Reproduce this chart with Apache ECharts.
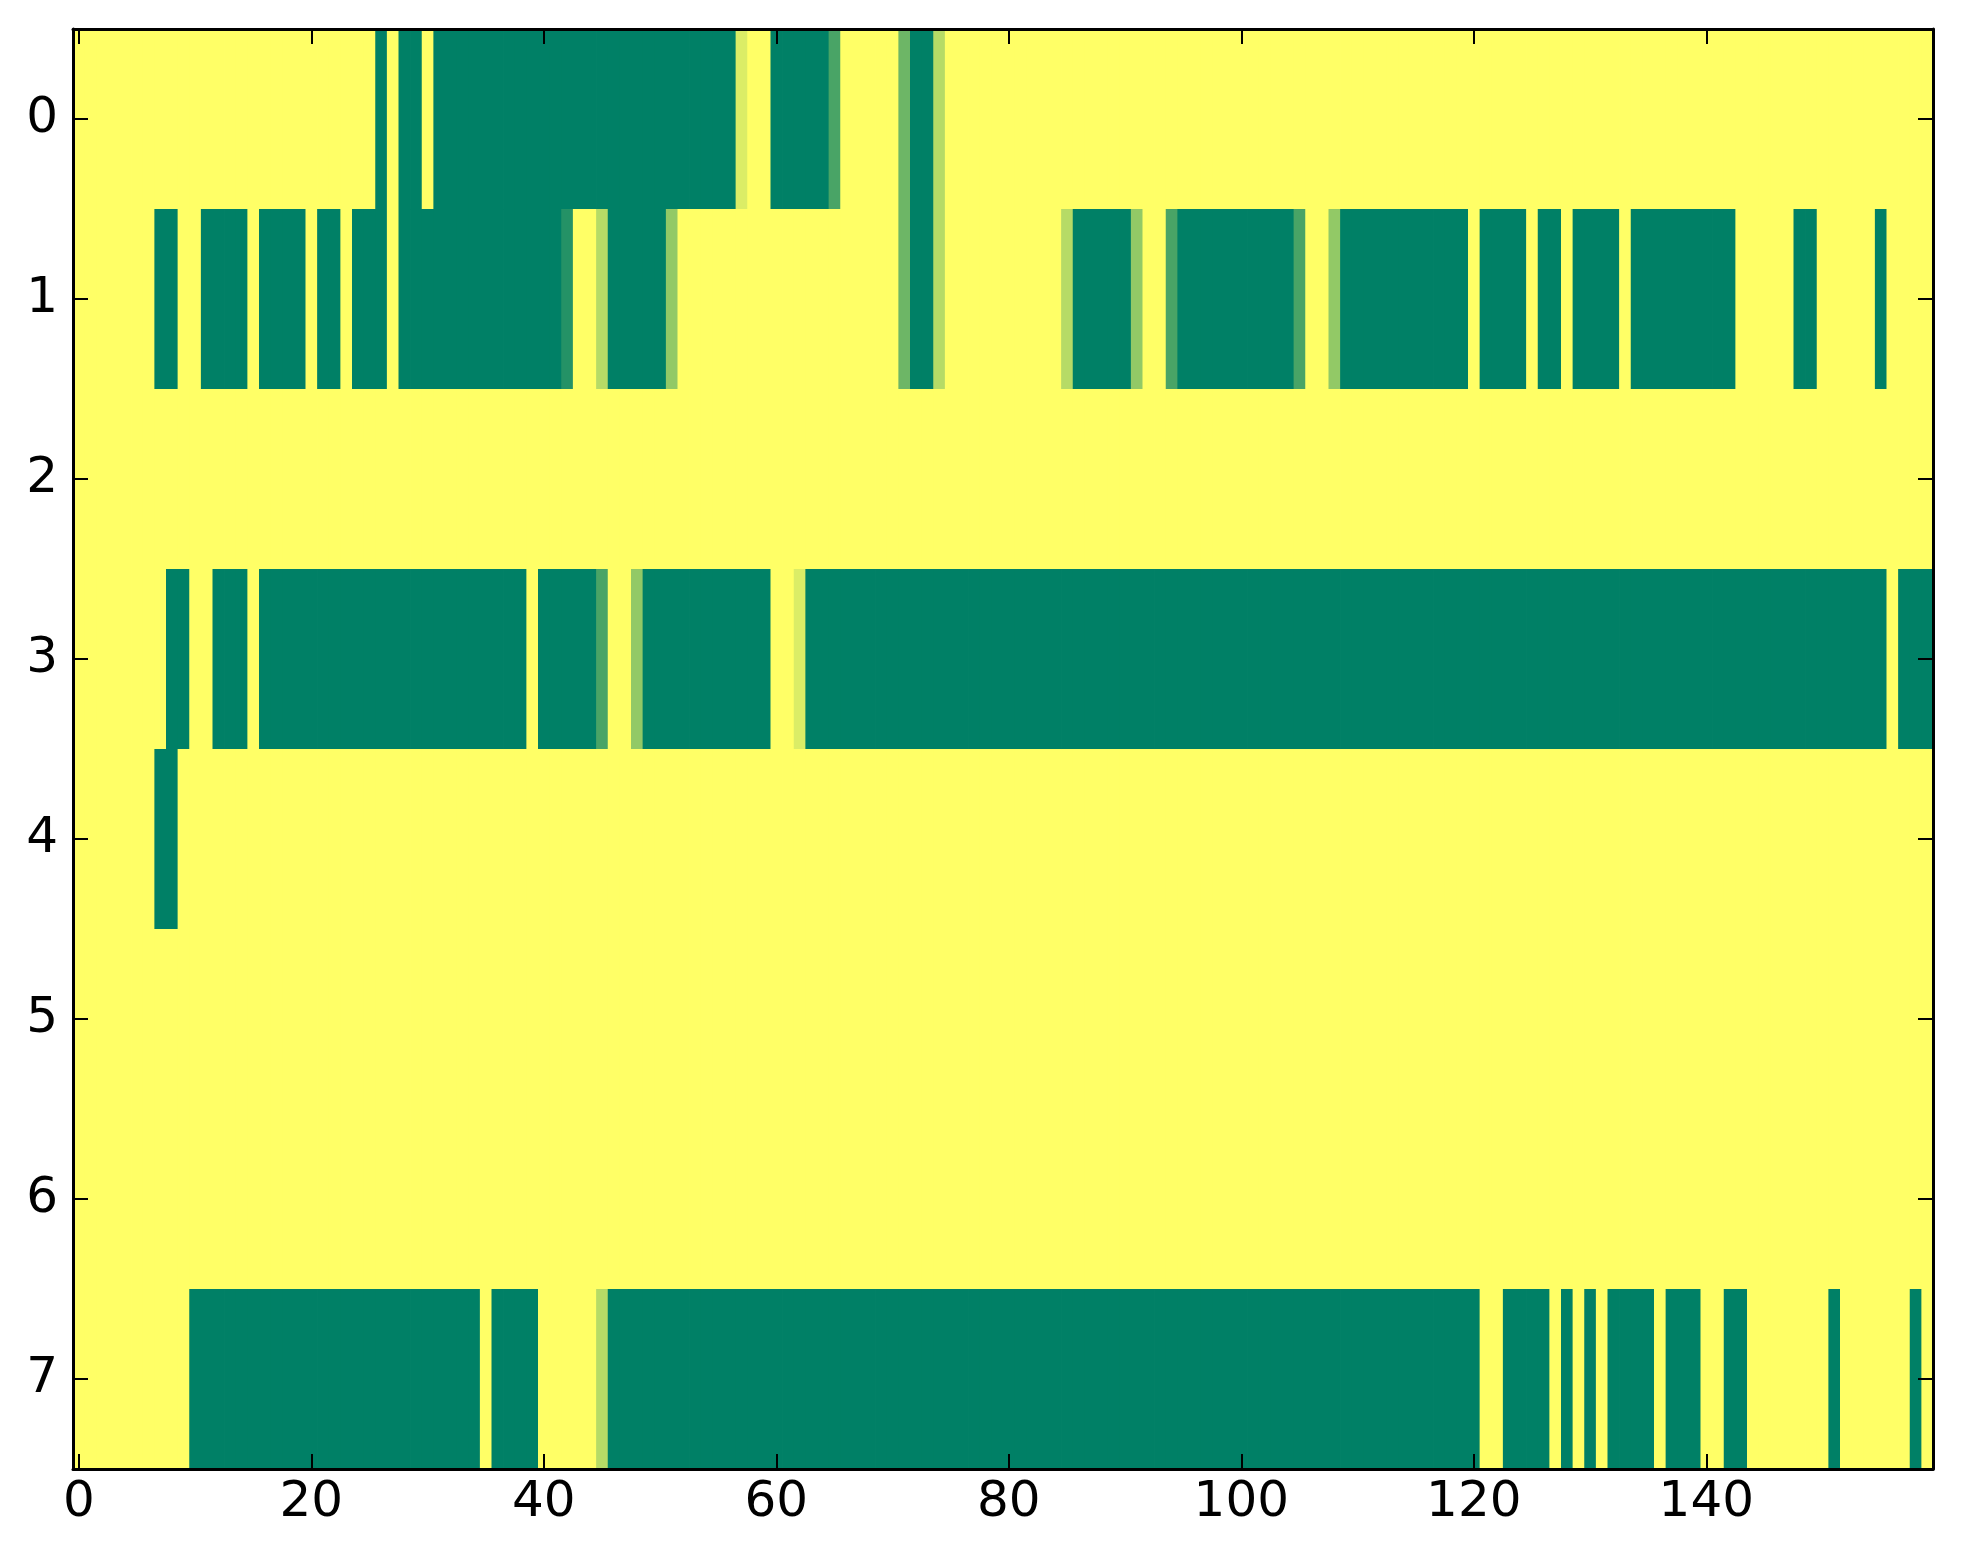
<!DOCTYPE html>
<html>
<head>
<meta charset="utf-8">
<script src="https://cdn.jsdelivr.net/npm/echarts@6/dist/echarts.min.js"></script>
<style>
html,body{margin:0;padding:0;background:#fff;}
#chart{width:1963px;height:1564px;}
</style>
</head>
<body>
<div id="chart"></div>
<script>
// tick labels
const xTicks = [0, 20, 40, 60, 80, 100, 120, 140];
const yLabels = ['0', '1', '2', '3', '4', '5', '6', '7'];

// cell values per row (0 = green, 1 = yellow), 160 columns each
const row0 = [
1,1,1,1,1,1,1,1,1,1,1,1,1,1,1,1,1,1,1,1,
1,1,1,1,1,1,0,1,0,0,1,0,0,0,0,0,0,0,0,0,
0,0,0,0,0,0,0,0,0,0,0,0,0,0,0,0,0,0.857,1,1,
0,0,0,0,0,0.286,1,1,1,1,1,0.429,0,0,0.714,1,1,1,1,1,
1,1,1,1,1,1,1,1,1,1,1,1,1,1,1,1,1,1,1,1,
1,1,1,1,1,1,1,1,1,1,1,1,1,1,1,1,1,1,1,1,
1,1,1,1,1,1,1,1,1,1,1,1,1,1,1,1,1,1,1,1,
1,1,1,1,1,1,1,1,1,1,1,1,1,1,1,1,1,1,1,1
];
const row1 = [
1,1,1,1,1,1,1,0,0,1,1,0,0,0,0,1,0,0,0,0,
1,0,0,1,0,0,0,1,0,0,0,0,0,0,0,0,0,0,0,0,
0,0,0.143,1,1,0.714,0,0,0,0,0,0.571,1,1,1,1,1,1,1,1,
1,1,1,1,1,1,1,1,1,1,1,0.429,0,0,0.714,1,1,1,1,1,
1,1,1,1,1,0.714,0,0,0,0,0,0.571,1,1,0.286,0,0,0,0,0,
0,0,0,0,0,0.286,1,1,0.571,0,0,0,0,0,0,0,0,0,0,0,
1,0,0,0,0,1,0,0,1,0,0,0,0,1,0,0,0,0,0,0,
0,0,0,1,1,1,1,1,0,0,1,1,1,1,1,0,1,1,1,1
];
const row2 = [
1,1,1,1,1,1,1,1,1,1,1,1,1,1,1,1,1,1,1,1,
1,1,1,1,1,1,1,1,1,1,1,1,1,1,1,1,1,1,1,1,
1,1,1,1,1,1,1,1,1,1,1,1,1,1,1,1,1,1,1,1,
1,1,1,1,1,1,1,1,1,1,1,1,1,1,1,1,1,1,1,1,
1,1,1,1,1,1,1,1,1,1,1,1,1,1,1,1,1,1,1,1,
1,1,1,1,1,1,1,1,1,1,1,1,1,1,1,1,1,1,1,1,
1,1,1,1,1,1,1,1,1,1,1,1,1,1,1,1,1,1,1,1,
1,1,1,1,1,1,1,1,1,1,1,1,1,1,1,1,1,1,1,1
];
const row3 = [
1,1,1,1,1,1,1,1,0,0,1,1,0,0,0,1,0,0,0,0,
0,0,0,0,0,0,0,0,0,0,0,0,0,0,0,0,0,0,0,1,
0,0,0,0,0,0.286,1,1,0.571,0,0,0,0,0,0,0,0,0,0,0,
1,1,0.857,0,0,0,0,0,0,0,0,0,0,0,0,0,0,0,0,0,
0,0,0,0,0,0,0,0,0,0,0,0,0,0,0,0,0,0,0,0,
0,0,0,0,0,0,0,0,0,0,0,0,0,0,0,0,0,0,0,0,
0,0,0,0,0,0,0,0,0,0,0,0,0,0,0,0,0,0,0,0,
0,0,0,0,0,0,0,0,0,0,0,0,0,0,0,0,1,0,0,0
];
const row4 = [
1,1,1,1,1,1,1,0,0,1,1,1,1,1,1,1,1,1,1,1,
1,1,1,1,1,1,1,1,1,1,1,1,1,1,1,1,1,1,1,1,
1,1,1,1,1,1,1,1,1,1,1,1,1,1,1,1,1,1,1,1,
1,1,1,1,1,1,1,1,1,1,1,1,1,1,1,1,1,1,1,1,
1,1,1,1,1,1,1,1,1,1,1,1,1,1,1,1,1,1,1,1,
1,1,1,1,1,1,1,1,1,1,1,1,1,1,1,1,1,1,1,1,
1,1,1,1,1,1,1,1,1,1,1,1,1,1,1,1,1,1,1,1,
1,1,1,1,1,1,1,1,1,1,1,1,1,1,1,1,1,1,1,1
];
const row5 = [
1,1,1,1,1,1,1,1,1,1,1,1,1,1,1,1,1,1,1,1,
1,1,1,1,1,1,1,1,1,1,1,1,1,1,1,1,1,1,1,1,
1,1,1,1,1,1,1,1,1,1,1,1,1,1,1,1,1,1,1,1,
1,1,1,1,1,1,1,1,1,1,1,1,1,1,1,1,1,1,1,1,
1,1,1,1,1,1,1,1,1,1,1,1,1,1,1,1,1,1,1,1,
1,1,1,1,1,1,1,1,1,1,1,1,1,1,1,1,1,1,1,1,
1,1,1,1,1,1,1,1,1,1,1,1,1,1,1,1,1,1,1,1,
1,1,1,1,1,1,1,1,1,1,1,1,1,1,1,1,1,1,1,1
];
const row6 = [
1,1,1,1,1,1,1,1,1,1,1,1,1,1,1,1,1,1,1,1,
1,1,1,1,1,1,1,1,1,1,1,1,1,1,1,1,1,1,1,1,
1,1,1,1,1,1,1,1,1,1,1,1,1,1,1,1,1,1,1,1,
1,1,1,1,1,1,1,1,1,1,1,1,1,1,1,1,1,1,1,1,
1,1,1,1,1,1,1,1,1,1,1,1,1,1,1,1,1,1,1,1,
1,1,1,1,1,1,1,1,1,1,1,1,1,1,1,1,1,1,1,1,
1,1,1,1,1,1,1,1,1,1,1,1,1,1,1,1,1,1,1,1,
1,1,1,1,1,1,1,1,1,1,1,1,1,1,1,1,1,1,1,1
];
const row7 = [
1,1,1,1,1,1,1,1,1,1,0,0,0,0,0,0,0,0,0,0,
0,0,0,0,0,0,0,0,0,0,0,0,0,0,0,1,0,0,0,0,
1,1,1,1,1,0.714,0,0,0,0,0,0,0,0,0,0,0,0,0,0,
0,0,0,0,0,0,0,0,0,0,0,0,0,0,0,0,0,0,0,0,
0,0,0,0,0,0,0,0,0,0,0,0,0,0,0,0,0,0,0,0,
0,0,0,0,0,0,0,0,0,0,0,0,0,0,0,0,0,0,0,0,
0,1,1,0,0,0,0,1,0,1,0,1,0,0,0,0,1,0,0,0,
1,1,0,0,1,1,1,1,1,1,1,0,1,1,1,1,1,1,0,1
];

const rows = [row0, row1, row2, row3, row4, row5, row6, row7];
const xCats = row0.map((_, i) => String(i));

const data = [];
rows.forEach((r, y) => r.forEach((v, x) => data.push([x, y, v])));

const chart = echarts.init(document.getElementById('chart'), null, {renderer: 'canvas'});

const FONT = 'DejaVu Sans';
const tickStyle = {color: '#000', width: 2};
const lineStyle = {color: '#000', width: 3};
const isXTick = (i) => xTicks.indexOf(i) >= 0;

function renderCell(params, api) {
  const c = api.coord([api.value(0), api.value(1)]);
  const s = api.size([1, 1]);
  return {
    type: 'rect',
    shape: {x: c[0] - s[0] / 2, y: c[1] - s[1] / 2, width: s[0] + 0.8, height: s[1] + 0.8},
    style: {fill: api.visual('color')}
  };
}

const option = {
  backgroundColor: '#ffffff',
  animation: false,
  grid: {left: 73, top: 29, width: 1860, height: 1440, containLabel: false},
  visualMap: {
    show: false, type: 'continuous', min: 0, max: 1, dimension: 2, seriesIndex: 0,
    inRange: {color: ['#008066', '#ffff66']}
  },
  xAxis: [
    {
      type: 'category', data: xCats, position: 'bottom', z: 10,
      axisLine: {show: true, lineStyle: lineStyle},
      axisTick: {show: true, alignWithLabel: true, inside: true, length: 15, interval: isXTick, lineStyle: tickStyle},
      axisLabel: {show: true, interval: isXTick, fontSize: 50, fontFamily: FONT, color: '#000', margin: 9},
      splitLine: {show: false}, splitArea: {show: false}
    },
    {
      type: 'category', data: xCats, position: 'top', z: 10,
      axisLine: {show: true, lineStyle: lineStyle},
      axisTick: {show: true, alignWithLabel: true, inside: true, length: 15, interval: isXTick, lineStyle: tickStyle},
      axisLabel: {show: false},
      splitLine: {show: false}, splitArea: {show: false}
    }
  ],
  yAxis: [
    {
      type: 'category', data: yLabels, inverse: true, position: 'left', z: 10,
      axisLine: {show: true, lineStyle: lineStyle},
      axisTick: {show: true, alignWithLabel: true, inside: true, length: 15, interval: 0, lineStyle: tickStyle},
      axisLabel: {show: true, interval: 0, fontSize: 50, fontFamily: FONT, color: '#000', margin: 15},
      splitLine: {show: false}, splitArea: {show: false}
    },
    {
      type: 'category', data: yLabels, inverse: true, position: 'right', z: 10,
      axisLine: {show: true, lineStyle: lineStyle},
      axisTick: {show: true, alignWithLabel: true, inside: true, length: 15, interval: 0, lineStyle: tickStyle},
      axisLabel: {show: false},
      splitLine: {show: false}, splitArea: {show: false}
    }
  ],
  series: [{
    type: 'custom',
    xAxisIndex: 0, yAxisIndex: 0,
    data: data,
    encode: {x: 0, y: 1},
    clip: true,
    renderItem: renderCell,
    progressive: 0,
    silent: true
  }]
};
chart.setOption(option);
</script>
</body>
</html>
